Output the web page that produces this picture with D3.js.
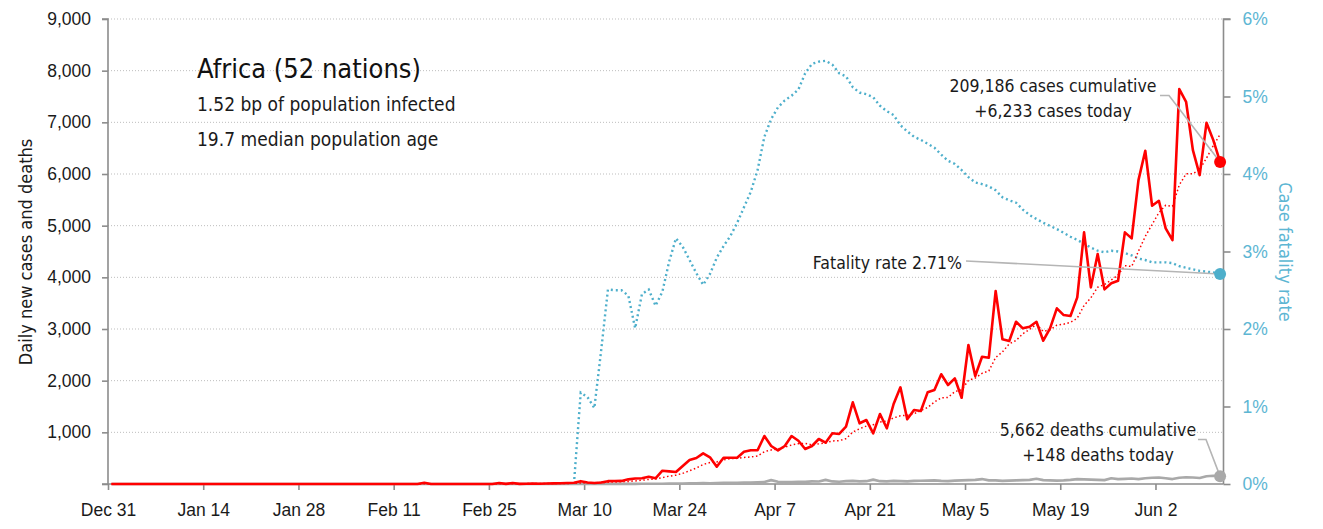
<!DOCTYPE html>
<html>
<head>
<meta charset="utf-8">
<script src="https://cdn.jsdelivr.net/npm/d3@7"></script>
<style>
  body { margin: 0; background: #fff; }
  svg { display: block; font-family: "DejaVu Sans Condensed", "DejaVu Sans", sans-serif; font-stretch: condensed; }
</style>
</head>
<body>
<script>
// daily series, one value per day starting Dec 31 2019
var firstDay = new Date(2019, 11, 31);
var lastAxisDay = new Date(2020, 5, 12);

var dailyCases = [
  0,0,0,0,0,0,0,0,0,0, 0,0,0,0,0,0,0,0,0,0,       // Dec 31 - Jan 19
  0,0,0,0,0,0,0,0,0,0, 0,0,0,0,0,0,0,0,0,0,       // Jan 20 - Feb 8
  0,0,0,0,0,                                      // Feb 9 - Feb 13
  1,25,0,0,0,0,0,0,0,0,0,0,20,2,20,3,             // Feb 14 - Feb 29
  5,8,6,10,12,15,20,25,55,30,20,30,55,58,60,90,   // Mar 1 - Mar 16
  105,110,141,110,257,245,232,350,464,503,594,516,335,509,509, // Mar 17 - Mar 31
  509,625,652,652,929,735,652,735,929,838,677,735,871,800,981, // Apr 1 - Apr 15
  968,1109,1581,1175,1238,981,1355,1078,1548,1871,1252,1432,1413,1774,1819, // Apr 16 - Apr 30
  2123,1916,2045,1670,2690,2090,2463,2444,3735,2800,2767,3140,3013,3044,3140,2773, // May 1 - May 16
  3013,3400,3270,3251,3612,4870,3806,4450,3767,3884,3934,4870,4754,5882,6450,   // May 17 - May 31
  5385,5482,4948,4721,7643,7398,6463,5979,6991,6656,6233                       // Jun 1 - Jun 11
];

var dailyDeaths = [
  0,0,0,0,0,0,0,0,0,0, 0,0,0,0,0,0,0,0,0,0,
  0,0,0,0,0,0,0,0,0,0, 0,0,0,0,0,0,0,0,0,0,
  0,0,0,0,0,
  0,0,0,0,0,0,0,0,0,0,0,0,0,0,0,0,                // Feb 14 - Feb 29
  0,0,0,0,0,0,0,1,0,1,1,1,1,2,2,2,                // Mar 1 - Mar 16
  3,4,5,5,6,8,8,10,12,14,16,15,20,22,25,          // Mar 17 - Mar 31
  25,30,28,35,40,75,45,40,38,45,42,50,48,80,50,   // Apr 1 - Apr 15
  45,55,60,50,55,85,55,50,60,55,50,60,62,65,70,   // Apr 16 - Apr 30
  60,55,65,70,75,80,95,70,70,60,65,70,75,80,100,75, // May 1 - May 16
  70,65,70,80,95,90,85,80,75,110,95,100,105,95,110, // May 17 - May 31
  120,125,110,95,120,130,125,115,150,160,148        // Jun 1 - Jun 11
];

// case fatality rate (%), from Mar 8
var cfrStart = new Date(2020, 2, 8);
var fatalityRate = [
  0,1.18,1.12,0.98,1.72,2.51,2.50,2.50,2.43,2.01,2.45,2.51,2.30,2.48,      // Mar 8 - Mar 21
  2.87,3.17,3.06,2.89,2.72,2.57,2.71,2.92,3.07,3.20,                      // Mar 22 - Mar 31
  3.37,3.57,3.77,4.05,4.48,4.71,4.86,4.95,5.01,5.09,5.30,5.42,5.45,5.46,5.41, // Apr 1 - Apr 15
  5.30,5.26,5.12,5.05,5.03,4.99,4.88,4.81,4.76,4.63,4.55,4.48,4.44,4.39,4.34, // Apr 16 - Apr 30
  4.25,4.17,4.13,4.05,3.96,3.89,3.87,3.84,3.79,3.70,3.66,3.63,3.54,3.47,3.42,3.37, // May 1 - May 16
  3.33,3.29,3.24,3.19,3.15,3.10,3.05,3.01,2.99,3.01,3.00,2.98,2.95,2.91,2.89,     // May 17 - May 31
  2.86,2.86,2.86,2.85,2.81,2.79,2.77,2.75,2.74,2.73,2.71                          // Jun 1 - Jun 11
];

var casesTicks = [0, 1000, 2000, 3000, 4000, 5000, 6000, 7000, 8000, 9000];
var rateTicks = [0, 1, 2, 3, 4, 5, 6];
var totalCases = 209186, totalDeaths = 5662;
var title = "Africa (52 nations)";
var subtitle = ["1.52 bp of population infected", "19.7 median population age"];

var W = 1323, H = 529;
var mLeft = 108, mRight = 1223.5, mTop = 19, mBottom = 484;
var red = "#ff0000", blue = "#4eafcb", grey = "#a9a9a9", axisGrey = "#8c8c8c";

var svg = d3.select("body").append("svg").attr("width", W).attr("height", H);

var x = d3.scaleTime().domain([firstDay, lastAxisDay]).range([mLeft, mRight]);
var yL = d3.scaleLinear().domain([0, 9000]).range([mBottom, mTop]);
var yR = d3.scaleLinear().domain([0, 6]).range([mBottom, mTop]);

function dayAt(start, i) { return d3.timeHour.offset(d3.timeDay.offset(start, i), 12); }

var cases = dailyCases.map(function(v, i) { return { date: dayAt(firstDay, i), v: v }; });
var deaths = dailyDeaths.map(function(v, i) { return { date: dayAt(firstDay, i), v: v }; });
var rate = fatalityRate.map(function(v, i) { return { date: dayAt(cfrStart, i), v: v }; });
// trailing 7 day average of cases
var avg = cases.map(function(d, i) {
  return { date: d.date, v: d3.mean(dailyCases.slice(Math.max(0, i - 6), i + 1)) };
});

// gridlines
svg.append("g").selectAll("line")
  .data(casesTicks.slice(1))
  .enter().append("line")
  .attr("x1", mLeft).attr("x2", mRight)
  .attr("y1", function(d) { return yL(d); }).attr("y2", function(d) { return yL(d); })
  .attr("stroke", "#bdbdbd").attr("stroke-width", 1).attr("stroke-dasharray", "1,2");

// axes
var fmt = d3.format(",");
var gL = svg.append("g").attr("transform", "translate(" + mLeft + ",0)")
  .call(d3.axisLeft(yL).tickValues(casesTicks).tickSize(6).tickPadding(11)
    .tickFormat(function(d) { return d === 0 ? "" : fmt(d); }));
var gR = svg.append("g").attr("transform", "translate(" + mRight + ",0)")
  .call(d3.axisRight(yR).tickValues(rateTicks).tickSize(7).tickPadding(12)
    .tickFormat(function(d) { return d + "%"; }));
var xTicks = d3.range(0, 164, 14).map(function(i) { return d3.timeDay.offset(firstDay, i); });
var gX = svg.append("g").attr("transform", "translate(0," + mBottom + ")")
  .call(d3.axisBottom(x).tickValues(xTicks).tickSize(6).tickPadding(14)
    .tickFormat(d3.timeFormat("%b %-d")));

[gL, gR, gX].forEach(function(g) {
  g.selectAll("path").attr("stroke", axisGrey).attr("stroke-width", 1.6);
  g.selectAll("line").attr("stroke", axisGrey).attr("stroke-width", 1.6);
  g.selectAll("text").attr("font-size", 17.5).attr("font-family", null).attr("fill", "#1a1a1a");
});
gL.select("path").attr("d", "M0," + mBottom + "V" + mTop + "H-6");
gR.select("path").attr("d", "M0," + mBottom + "V" + mTop + "H7");
gX.select("path").attr("d", "M" + (mLeft - 6) + ",0H" + mRight);
gR.selectAll("text").attr("fill", "#5db6d3");

// axis titles
svg.append("text")
  .attr("transform", "translate(32,252) rotate(-90)")
  .attr("text-anchor", "middle").attr("font-size", 18).attr("fill", "#1a1a1a")
  .text("Daily new cases and deaths");
svg.append("text")
  .attr("transform", "translate(1279,252) rotate(90)")
  .attr("text-anchor", "middle").attr("font-size", 18).attr("fill", "#5db6d3")
  .text("Case fatality rate");

// lines
var lineL = d3.line().x(function(d) { return x(d.date); }).y(function(d) { return yL(d.v); });
var lineR = d3.line().x(function(d) { return x(d.date); }).y(function(d) { return yR(d.v); });

svg.append("path").datum(deaths).attr("d", lineL)
  .attr("fill", "none").attr("stroke", grey).attr("stroke-width", 2.6).attr("stroke-linejoin", "round");
svg.append("path").datum(rate).attr("d", lineR)
  .attr("fill", "none").attr("stroke", blue).attr("stroke-width", 2.4).attr("stroke-dasharray", "2,3");
svg.append("path").datum(avg).attr("d", lineL)
  .attr("fill", "none").attr("stroke", red).attr("stroke-width", 1.5).attr("stroke-dasharray", "1.5,2.5");
svg.append("path").datum(cases).attr("d", lineL)
  .attr("fill", "none").attr("stroke", red).attr("stroke-width", 2.6).attr("stroke-linejoin", "round");

// end points and labels
var lastC = cases[cases.length - 1], lastD = deaths[deaths.length - 1], lastR = rate[rate.length - 1];

function leader(pts) {
  svg.append("path").attr("d", d3.line()(pts))
    .attr("fill", "none").attr("stroke", "#b5b5b5").attr("stroke-width", 1.6);
}
leader([[1160, 95.5], [1169, 95.5], [x(lastC.date), yL(lastC.v)]]);
leader([[966, 261], [x(lastR.date), yR(lastR.v)]]);
leader([[1198, 439.5], [1206, 439.5], [x(lastD.date), yL(lastD.v)]]);

svg.append("circle").attr("cx", x(lastD.date)).attr("cy", yL(lastD.v)).attr("r", 6).attr("fill", grey);
svg.append("circle").attr("cx", x(lastR.date)).attr("cy", yR(lastR.v)).attr("r", 6).attr("fill", blue);
svg.append("circle").attr("cx", x(lastC.date)).attr("cy", yL(lastC.v)).attr("r", 6).attr("fill", red);

function label(lines, cx, y0, anchor) {
  var t = svg.append("text").attr("font-size", 17.5).attr("fill", "#1a1a1a").attr("text-anchor", anchor || "middle");
  lines.forEach(function(s, i) {
    t.append("tspan").attr("x", cx).attr("y", y0 + i * 25).text(s);
  });
}
label([fmt(totalCases) + " cases cumulative", "+" + fmt(lastC.v) + " cases today"], 1053, 92);
label(["Fatality rate " + lastR.v.toFixed(2) + "%"], 962, 269, "end");
label([fmt(totalDeaths) + " deaths cumulative", "+" + fmt(lastD.v) + " deaths today"], 1098, 436);

// title block
svg.append("text").attr("x", 197).attr("y", 78).attr("font-size", 27).attr("fill", "#111").text(title);
subtitle.forEach(function(s, i) {
  svg.append("text").attr("x", 197).attr("y", 111 + i * 35).attr("font-size", 19).attr("fill", "#1a1a1a").text(s);
});
</script>
</body>
</html>
